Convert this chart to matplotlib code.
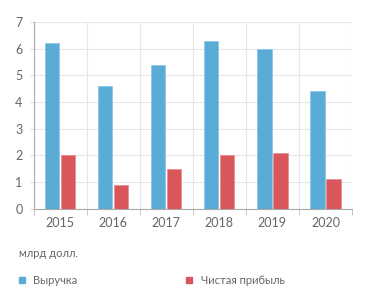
import numpy as np
import matplotlib.pyplot as plt

years = ["2015", "2016", "2017", "2018", "2019", "2020"]
revenue = [6.2, 4.6, 5.4, 6.3, 6.0, 4.4]
net_profit = [2.0, 0.9, 1.5, 2.0, 2.1, 1.1]

blue = "#5aabd6"
red = "#d9575b"
txt = "#666666"

plt.rcParams["font.family"] = ["Lato", "DejaVu Sans"]

fig = plt.figure(figsize=(3.71, 3.03), dpi=100)
ax = fig.add_axes([0.0903, 0.311, 0.8585, 0.616])

x = np.arange(len(years))
w = 0.27
ax.bar(x - 0.15, revenue, w, color=blue, edgecolor="#8cc6e6", linewidth=0.6, zorder=3)
ax.bar(x + 0.15, net_profit, w, color=red, edgecolor="#e89092", linewidth=0.6, zorder=3)

ax.set_xlim(-0.5, len(years) - 0.5)
ax.set_ylim(0, 7)
ax.set_yticks(range(0, 8))
ax.set_xticks(x)
ax.set_xticklabels(years)
ax.set_xticks(np.arange(-0.5, len(years)), minor=True)

ax.grid(axis="y", color="#e6e6e6", linewidth=0.8, zorder=0)
ax.grid(axis="x", which="minor", color="#e6e6e6", linewidth=0.8, zorder=0)
ax.tick_params(axis="x", which="major", length=0, labelsize=9, colors=txt, pad=6)
ax.tick_params(axis="x", which="minor", length=4, color="#bbbbbb")
ax.tick_params(axis="y", length=3, color="#dddddd", labelsize=9, labelcolor=txt, pad=5)

for s in ["top", "right"]:
    ax.spines[s].set_visible(False)
for s in ["left", "bottom"]:
    ax.spines[s].set_color("#aaaaaa")
    ax.spines[s].set_linewidth(0.8)

fig.text(0.051, 0.165, "млрд долл.", fontsize=8, color=txt, va="center")

# legend
fig.patches.append(plt.Rectangle((19 / 371, 1 - 283 / 303), 6 / 371, 6 / 303,
                                 transform=fig.transFigure, color=blue))
fig.text(33 / 371, 1 - 280 / 303, "Выручка", fontsize=8, color=txt, va="center")
fig.patches.append(plt.Rectangle((186 / 371, 1 - 283 / 303), 6 / 371, 6 / 303,
                                 transform=fig.transFigure, color=red))
fig.text(201 / 371, 1 - 280 / 303, "Чистая прибыль", fontsize=8, color=txt, va="center")

fig.savefig("out.png", dpi=100)
